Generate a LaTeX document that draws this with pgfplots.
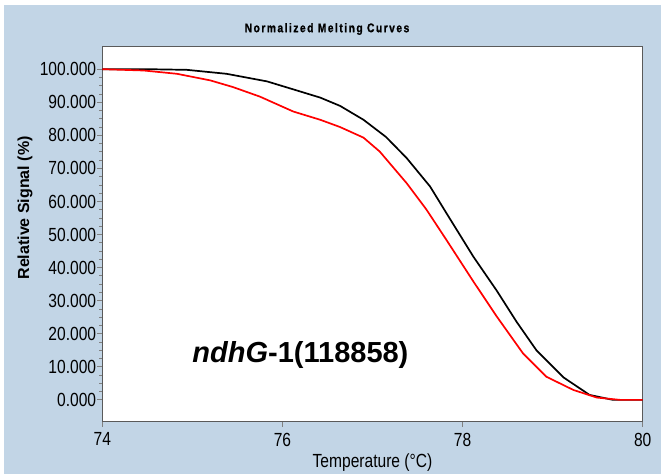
\documentclass[border=0pt]{standalone}
\usepackage{pgfplots}
\pgfplotsset{compat=1.18}
\usepackage{fontspec}
\setmainfont{Liberation Sans}
\newfontfamily\narrowfont[FakeStretch=0.82]{Liberation Sans}
\newfontfamily\titlefont[FakeStretch=0.82,LetterSpace=12,FakeBold=1.2]{Liberation Sans Bold}
\definecolor{bgblue}{HTML}{C2D5E6}
\definecolor{framec}{HTML}{5A5A5A}
\begin{document}
\begin{tikzpicture}
\fill[white] (0pt,0pt) rectangle (661pt,474pt);
\fill[bgblue] (4pt,0pt) rectangle (661pt,469pt);
\node[font=\titlefont\fontsize{12.5}{14}\selectfont] at (327pt,445pt) {Normalized Melting Curves};
\begin{axis}[
  at={(102.3pt,52.3pt)}, anchor=south west,
  scale only axis, width=540.4pt, height=375pt,
  xmin=74, xmax=80, ymin=-6.6, ymax=106.8,
  axis background/.style={fill=white},
  axis line style={draw=framec, line width=1.5pt},
  xtick={74,76,78,80},
  ytick={0,10,...,100},
  minor y tick num=3,
  tick pos=left,
  tick align=outside,
  major tick length=5pt,
  minor tick length=3pt,
  every tick/.style={draw=gray, line width=0.8pt},
  /pgf/number format/assume math mode=true,
  yticklabel={\pgfmathprintnumber[fixed,fixed zerofill,precision=3,1000 sep={}]{\tick}},
  xticklabel={\pgfmathprintnumber[fixed,precision=0]{\tick}},
  xticklabel style={font=\narrowfont\fontsize{19}{19}\selectfont, inner sep=1pt, yshift=-5pt},
  yticklabel style={font=\narrowfont\fontsize{19}{19}\selectfont, inner sep=1pt},
  xlabel={Temperature (°C)},
  xlabel style={font=\narrowfont\fontsize{19}{19}\selectfont, at={(axis description cs:0.5,-0.11)}, anchor=center},
  ylabel={Relative Signal (\%)},
  ylabel style={font=\bfseries\fontsize{16}{17}\selectfont, at={(axis description cs:-0.143,0.57)}, anchor=center},
  clip=true,
]
\addplot[black, line width=1.7pt, mark=none] coordinates {
(74.00,100) (74.50,100) (74.94,99.8) (75.38,98.6) (75.83,96.3) (76.12,93.9)
(76.42,91.4) (76.64,88.9) (76.90,84.7) (77.15,79.5) (77.38,73.1) (77.64,64.5)
(77.82,56.5) (78.12,43.3) (78.38,33.0) (78.60,23.6) (78.82,15.0) (79.12,6.8)
(79.41,1.5) (79.67,0) (80.00,0)
};
\addplot[red, line width=1.7pt, mark=none] coordinates {
(74.00,100) (74.46,99.6) (74.83,98.6) (75.20,96.6) (75.45,94.6) (75.75,91.7)
(76.12,87.2) (76.42,84.7) (76.64,82.5) (76.90,79.3) (77.08,75.1) (77.38,65.5)
(77.60,57.5) (77.82,48.4) (78.12,35.8) (78.38,25.2) (78.67,14.1) (78.93,7.0)
(79.23,3.0) (79.49,0.7) (79.75,0) (80.00,0)
};
\node[font=\bfseries\fontsize{29}{31}\selectfont] at (axis cs:76.2,13.6) {\textit{ndhG}-1(118858)};
\end{axis}
\pgfresetboundingbox
\useasboundingbox (0pt,0pt) rectangle (661pt,474pt);
\end{tikzpicture}
\end{document}
